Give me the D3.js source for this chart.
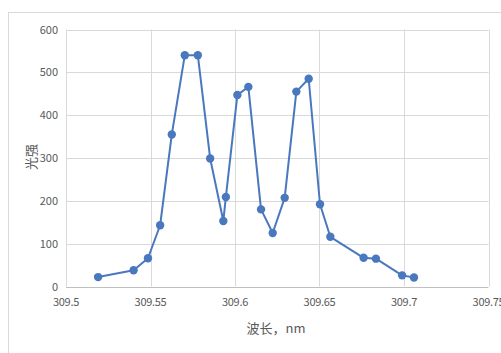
<!DOCTYPE html>
<html>
<head>
<meta charset="utf-8">
<script src="https://cdn.jsdelivr.net/npm/d3@7"></script>
<style>
  body { margin: 0; background: #fff; }
  text { font-family: "Noto Sans CJK SC", "Liberation Sans", sans-serif; fill: #595959; }
</style>
</head>
<body>
<div id="chart"></div>
<script>
// wavelength (nm) and light intensity
const wavelength = [309.519, 309.540, 309.5485, 309.5557, 309.5626, 309.5703, 309.578, 309.5853,
  309.5931, 309.5946, 309.6014, 309.6079, 309.6154, 309.6223, 309.6294, 309.6363, 309.6436,
  309.6503, 309.6564, 309.6761, 309.6834, 309.6989, 309.7059];
const intensity = [22, 38, 66, 143, 355, 540, 540, 299,
  153, 209, 447, 466, 180, 125, 207, 455, 485,
  192, 116, 67, 65, 26, 21];
const xTicks = [309.5, 309.55, 309.6, 309.65, 309.7, 309.75];
const yTicks = [0, 100, 200, 300, 400, 500, 600];

const W = 501, H = 353;
const svg = d3.select('#chart').append('svg')
  .attr('width', W).attr('height', H);

// outer chart frame (runs past the window on the right and bottom)
svg.append('rect')
  .attr('x', 8.5).attr('y', 12.5)
  .attr('width', 520).attr('height', 360)
  .attr('fill', '#fff').attr('stroke', '#d9d9d9');

const x = d3.scaleLinear().domain([309.5, 309.75]).range([66, 488.5]);
const y = d3.scaleLinear().domain([0, 600]).range([286.5, 29.5]);

// gridlines
svg.append('g').selectAll('line').data(yTicks.slice(1)).enter().append('line')
  .attr('x1', x(309.5)).attr('x2', x(309.75))
  .attr('y1', d => Math.round(y(d)) + 0.5).attr('y2', d => Math.round(y(d)) + 0.5)
  .attr('stroke', '#d9d9d9');
svg.append('g').selectAll('line').data(xTicks).enter().append('line')
  .attr('y1', y(0)).attr('y2', y(600))
  .attr('x1', d => Math.round(x(d)) + 0.5).attr('x2', d => Math.round(x(d)) + 0.5)
  .attr('stroke', '#d9d9d9');
// baseline
svg.append('line')
  .attr('x1', x(309.5)).attr('x2', x(309.75))
  .attr('y1', Math.round(y(0)) + 0.5).attr('y2', Math.round(y(0)) + 0.5)
  .attr('stroke', '#bfbfbf');

// tick labels
svg.append('g').selectAll('text').data(yTicks).enter().append('text')
  .attr('x', 58).attr('y', d => y(d) + 4)
  .attr('text-anchor', 'end').attr('font-size', 11)
  .text(d => d);
svg.append('g').selectAll('text').data(xTicks).enter().append('text')
  .attr('x', d => x(d)).attr('y', 306)
  .attr('text-anchor', 'middle').attr('font-size', 11)
  .attr('letter-spacing', -0.3)
  .text(d => d3.format('')(d));

// axis titles
svg.append('text')
  .attr('transform', 'translate(36,157) rotate(-90)')
  .attr('text-anchor', 'middle').attr('font-size', 13)
  .text('光强');
svg.append('text')
  .attr('x', 276).attr('y', 333)
  .attr('text-anchor', 'middle').attr('font-size', 13)
  .text('波长，nm');

// series
const pts = wavelength.map((w, i) => ({w: w, v: intensity[i]}));
svg.append('path')
  .datum(pts)
  .attr('fill', 'none').attr('stroke', '#4a78bf')
  .attr('stroke-width', 2).attr('stroke-linejoin', 'round')
  .attr('d', d3.line().x(d => x(d.w)).y(d => y(d.v)));
svg.append('g').selectAll('circle').data(pts).enter().append('circle')
  .attr('cx', d => x(d.w)).attr('cy', d => y(d.v))
  .attr('r', 4.2).attr('fill', '#4a78bf');
</script>
</body>
</html>
